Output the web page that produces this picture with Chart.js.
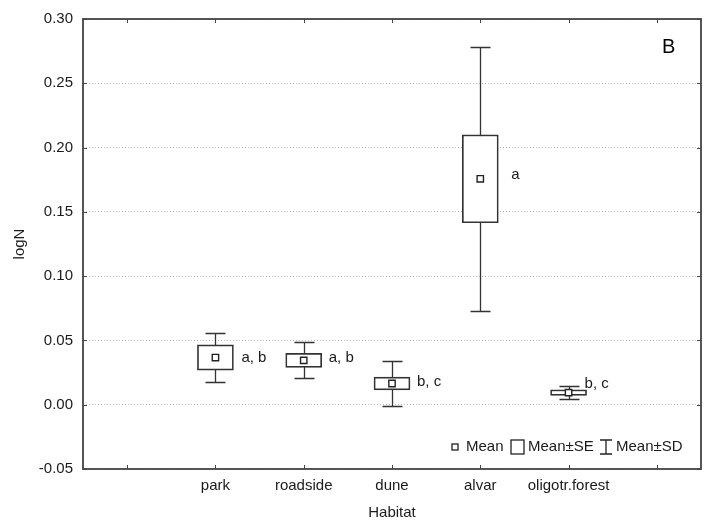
<!DOCTYPE html>
<html lang="en">
<head>
    <meta charset="UTF-8">
    <title>logN by Habitat</title>
    <script src="https://cdn.jsdelivr.net/npm/chart.js"></script>
    <style>
        body { margin: 0; background: #fff; }
    </style>
</head>
<body>
    <canvas id="chart" width="711" height="527"></canvas>

    <script>
        // habitats (empty slots on both ends, like the original axis)
        const categories = ['', 'park', 'roadside', 'dune', 'alvar', 'oligotr.forest', ' '];
        const meanVals = [null, 0.0367, 0.0345, 0.0165, 0.1757, 0.0094, null];
        const seVals   = [null, 0.0098, 0.0054, 0.0049, 0.0342, 0.0022, null];
        const sdVals   = [null, 0.0191, 0.0140, 0.0173, 0.1025, 0.0049, null];
        const letters  = ['', 'a, b', 'a, b', 'b, c', 'a', 'b, c', ''];
        const yMin = -0.05, yMax = 0.30, yStep = 0.05;

        const FONT = '"Liberation Sans", Arial, sans-serif';
        const INK = '#1a1a1a';

        let seBoxes = meanVals.map((m, i) => m == null ? null : [m - seVals[i], m + seVals[i]]);

        // SD whiskers go under the SE boxes
        const whiskers = {
            id: 'whiskers',
            beforeDatasetsDraw(chart) {
                let ctx = chart.ctx, x = chart.scales.x, y = chart.scales.y;
                ctx.save();
                ctx.strokeStyle = '#333';
                ctx.lineWidth = 1.3;
                meanVals.forEach((m, i) => {
                    if (m == null) return;
                    let px = Math.round(x.getPixelForValue(i)) + 0.5;
                    let top = Math.round(y.getPixelForValue(m + sdVals[i])) + 0.5;
                    let bot = Math.round(y.getPixelForValue(m - sdVals[i])) + 0.5;
                    ctx.beginPath();
                    ctx.moveTo(px, top); ctx.lineTo(px, bot);
                    ctx.moveTo(px - 10, top); ctx.lineTo(px + 10, top);
                    ctx.moveTo(px - 10, bot); ctx.lineTo(px + 10, bot);
                    ctx.stroke();
                });
                ctx.restore();
            }
        };

        // frame, inward ticks, letters, legend and panel tag
        const decorations = {
            id: 'decorations',
            afterDraw(chart) {
                let ctx = chart.ctx, a = chart.chartArea;
                let x = chart.scales.x, y = chart.scales.y;
                ctx.save();

                ctx.strokeStyle = '#444';
                ctx.lineWidth = 1.8;
                ctx.strokeRect(a.left, a.top, a.right - a.left, a.bottom - a.top);

                ctx.lineWidth = 1;
                ctx.beginPath();
                y.ticks.forEach(t => {
                    let py = Math.round(y.getPixelForValue(t.value)) + 0.5;
                    ctx.moveTo(a.left, py); ctx.lineTo(a.left + 4, py);
                    ctx.moveTo(a.right - 4, py); ctx.lineTo(a.right, py);
                });
                categories.forEach((c, i) => {
                    let px = Math.round(x.getPixelForValue(i)) + 0.5;
                    ctx.moveTo(px, a.bottom); ctx.lineTo(px, a.bottom - 4);
                    ctx.moveTo(px, a.top); ctx.lineTo(px, a.top + 4);
                });
                ctx.stroke();

                // significance letters
                const dx = [0, 26, 25, 25, 31, 16, 0];
                const dy = [0, 0, -2, -2, -4, -9, 0];
                ctx.fillStyle = INK;
                ctx.font = '15px ' + FONT;
                ctx.textAlign = 'left';
                ctx.textBaseline = 'middle';
                letters.forEach((l, i) => {
                    if (!l) return;
                    ctx.fillText(l, x.getPixelForValue(i) + dx[i], y.getPixelForValue(meanVals[i]) + dy[i]);
                });

                // legend
                let ly = a.bottom - 22;
                let r = a.right;
                ctx.strokeStyle = '#222';
                ctx.lineWidth = 1.3;
                ctx.strokeRect(r - 249, ly - 3, 6, 6);
                ctx.fillText('Mean', r - 235, ly);
                ctx.strokeRect(r - 190, ly - 7, 13, 14);
                ctx.fillText('Mean\u00b1SE', r - 173, ly);
                ctx.beginPath();
                ctx.moveTo(r - 101, ly - 7); ctx.lineTo(r - 89, ly - 7);
                ctx.moveTo(r - 95, ly - 7); ctx.lineTo(r - 95, ly + 7);
                ctx.moveTo(r - 101, ly + 7); ctx.lineTo(r - 89, ly + 7);
                ctx.stroke();
                ctx.fillText('Mean\u00b1SD', r - 85, ly);

                ctx.font = '20px ' + FONT;
                ctx.fillStyle = '#000';
                ctx.fillText('B', r - 39, a.top + 28);
                ctx.restore();
            }
        };

        let ctx = document.getElementById('chart').getContext('2d');
        new Chart(ctx, {
            type: 'bar',
            data: {
                labels: categories,
                datasets: [
                    {
                        type: 'line',
                        label: 'Mean',
                        data: meanVals,
                        showLine: false,
                        pointStyle: 'rect',
                        pointRadius: 4.5,
                        pointBackgroundColor: '#fff',
                        pointBorderColor: '#222',
                        pointBorderWidth: 1.4,
                        order: 0
                    },
                    {
                        label: 'Mean\u00b1SE',
                        data: seBoxes,
                        backgroundColor: '#fff',
                        borderColor: '#333',
                        borderWidth: 1.7,
                        borderSkipped: false,
                        barThickness: 36,
                        order: 1
                    }
                ]
            },
            options: {
                responsive: false,
                animation: false,
                layout: { padding: { top: 14, right: 10, bottom: 0, left: 0 } },
                plugins: { legend: { display: false }, tooltip: { enabled: false } },
                scales: {
                    x: {
                        offset: true,
                        grid: { display: false, drawTicks: false },
                        border: { display: false },
                        ticks: { color: INK, padding: 8, font: { family: FONT, size: 15 }, autoSkip: false, maxRotation: 0 },
                        title: { display: true, text: 'Habitat', color: INK, padding: { top: 0, bottom: 5 }, font: { family: FONT, size: 15 } },
                        afterFit(s) { s.height = 58; }
                    },
                    y: {
                        min: yMin,
                        max: yMax,
                        grid: { color: '#bbb', lineWidth: 1, drawTicks: false },
                        border: { display: false, dash: [1, 2] },
                        ticks: {
                            stepSize: yStep,
                            color: INK,
                            padding: 10,
                            font: { family: FONT, size: 15 },
                            callback: v => (Math.abs(v) < 1e-9 ? 0 : v).toFixed(2)
                        },
                        title: { display: true, text: 'logN', color: INK, padding: { top: 11, bottom: 0 }, font: { family: FONT, size: 15 } },
                        afterFit(s) { s.width = 83; }
                    }
                }
            },
            plugins: [whiskers, decorations]
        });
    </script>
</body>
</html>
